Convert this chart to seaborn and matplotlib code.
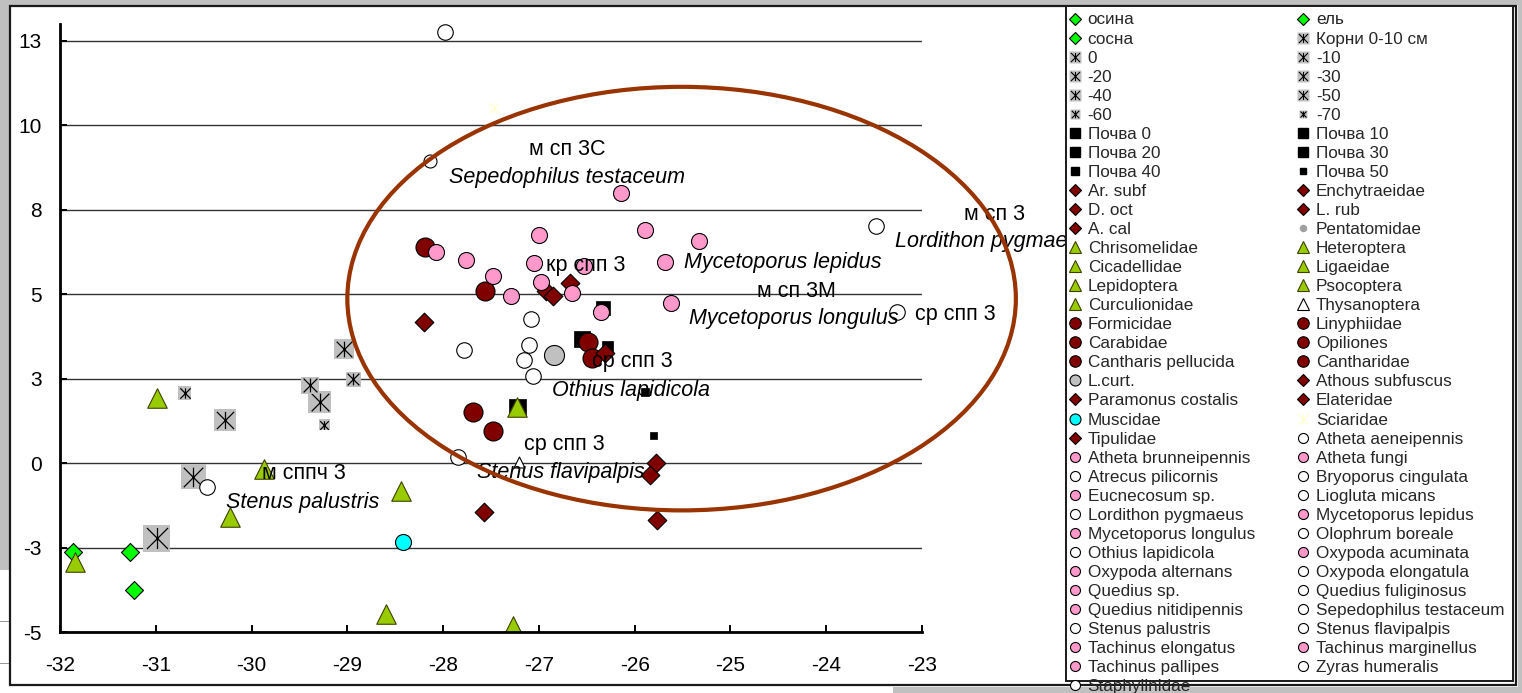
import numpy as np
import pandas as pd
import seaborn as sns
import matplotlib
matplotlib.use("Agg")
import matplotlib.pyplot as plt
from matplotlib.path import Path
from matplotlib.lines import Line2D
from matplotlib.patches import Ellipse, Rectangle

# ------------------------------------------------------------------ data
tree_names = ["осина", "ель", "сосна"]
tree_x = [-31.86, -31.27, -31.23]
tree_y = [-2.62, -2.62, -3.75]

root_names = ["Корни 0-10 см", "0", "-10", "-20", "-30", "-40", "-50", "-60", "-70"]
root_x = [-30.99, -30.61, -29.29, -30.28, -29.04, -29.39, -28.94, -30.70, -29.24]
root_y = [-2.22, -0.41, 1.81, 1.29, 3.39, 2.30, 2.49, 2.08, 1.14]

soil_names = ["Почва 0", "Почва 10", "Почва 20", "Почва 30", "Почва 40", "Почва 50"]
soil_x = [-27.23, -26.55, -26.33, -26.29, -25.89, -25.81]
soil_y = [1.65, 3.66, 4.60, 3.46, 2.10, 0.82]

diamond_names = ["Ar. subf", "Enchytraeidae", "D. oct", "L. rub", "A. cal",
                 "Athous subfuscus", "Paramonus costalis", "Elateridae", "Tipulidae"]
diamond_x = [-28.20, -26.93, -26.85, -26.68, -25.78, -26.31, -25.84, -27.57, -25.77]
diamond_y = [4.17, 5.09, 4.96, 5.34, 0.00, 3.27, -0.34, -1.46, -1.68]

tri_names = ["Chrisomelidae", "Heteroptera", "Cicadellidae", "Ligaeidae", "Lepidoptera",
             "Psocoptera", "Curculionidae", "Curculionidae", "Thysanoptera"]
tri_x = [-30.99, -29.87, -30.23, -31.84, -28.44, -28.60, -27.27, -27.23, -27.21]
tri_y = [1.93, -0.17, -1.60, -2.92, -0.84, -4.47, -4.81, 1.65, 0.02]

circ_names = ["Formicidae", "Linyphiidae", "Carabidae", "Opiliones", "Cantharis pellucida",
              "Cantharidae", "L.curt.", "Muscidae"]
circ_x = [-28.19, -27.56, -26.49, -26.45, -27.69, -27.48, -26.84, -28.42]
circ_y = [6.41, 5.09, 3.59, 3.12, 1.50, 0.96, 3.19, -2.35]

sciar_names = ["Sciaridae"]
sciar_x = [-27.47]
sciar_y = [10.50]

staph_names = ["Atheta brunneipennis", "Atheta fungi", "Eucnecosum sp.", "Mycetoporus lepidus",
               "Mycetoporus longulus", "Oxypoda acuminata", "Oxypoda alternans",
               "Quedius sp.", "Quedius sp.", "Quedius nitidipennis", "Quedius nitidipennis",
               "Tachinus elongatus", "Tachinus elongatus", "Tachinus marginellus",
               "Tachinus pallipes",
               "Atheta aeneipennis", "Atrecus pilicornis", "Bryoporus cingulata",
               "Liogluta micans", "Lordithon pygmaeus", "Olophrum boreale",
               "Othius lapidicola", "Oxypoda elongatula", "Sepedophilus testaceum",
               "Stenus palustris", "Stenus flavipalpis"]
staph_x = [-26.14, -27.00, -25.89, -25.68, -25.62, -25.33, -28.07, -27.76, -27.48,
           -27.05, -26.53, -26.98, -27.29, -26.65, -26.35,
           -27.10, -27.06, -27.08, -27.78, -23.48, -27.98, -27.16, -23.26, -28.14,
           -30.47, -27.84]
staph_y = [7.99, 6.74, 6.90, 5.96, 4.73, 6.58, 6.25, 6.01, 5.54,
           5.93, 5.83, 5.36, 4.94, 5.04, 4.47,
           3.51, 2.59, 4.27, 3.34, 7.01, 12.75, 3.04, 4.48, 8.93,
           -0.72, 0.18]

legend_names = [
    "осина", "ель", "сосна", "Корни 0-10 см", "0", "-10", "-20", "-30", "-40", "-50",
    "-60", "-70", "Почва 0", "Почва 10", "Почва 20", "Почва 30", "Почва 40", "Почва 50",
    "Ar. subf", "Enchytraeidae", "D. oct", "L. rub", "A. cal", "Pentatomidae",
    "Chrisomelidae", "Heteroptera", "Cicadellidae", "Ligaeidae", "Lepidoptera",
    "Psocoptera", "Curculionidae", "Thysanoptera", "Formicidae", "Linyphiidae",
    "Carabidae", "Opiliones", "Cantharis pellucida", "Cantharidae", "L.curt.",
    "Athous subfuscus", "Paramonus costalis", "Elateridae", "Muscidae", "Sciaridae",
    "Tipulidae", "Atheta aeneipennis", "Atheta brunneipennis", "Atheta fungi",
    "Atrecus pilicornis", "Bryoporus cingulata", "Eucnecosum sp.", "Liogluta micans",
    "Lordithon pygmaeus", "Mycetoporus lepidus", "Mycetoporus longulus", "Olophrum boreale",
    "Othius lapidicola", "Oxypoda acuminata", "Oxypoda alternans", "Oxypoda elongatula",
    "Quedius sp.", "Quedius fuliginosus", "Quedius nitidipennis", "Sepedophilus testaceum",
    "Stenus palustris", "Stenus flavipalpis", "Tachinus elongatus", "Tachinus marginellus",
    "Tachinus pallipes", "Zyras humeralis", "Staphylinidae"]

x_ticks = [-32, -31, -30, -29, -28, -27, -26, -25, -24, -23]
x_tick_labels = ["-32", "-31", "-30", "-29", "-28", "-27", "-26", "-25", "-24", "-23"]
y_ticks = [-5, -2.5, 0, 2.5, 5, 7.5, 10, 12.5]
y_tick_labels = ["-5", "-3", "0", "3", "5", "8", "10", "13"]

label_text = ["м сп 3С", "Sepedophilus testaceum", "кр спп 3", "Mycetoporus lepidus",
              "м сп 3М", "Mycetoporus longulus", "м сп 3", "Lordithon pygmaeus",
              "ср спп 3", "ср спп 3", "Othius lapidicola", "ср спп 3",
              "Stenus flavipalpis", "м сппч 3", "Stenus palustris"]
label_x = [-26.70, -26.71, -26.93, -25.49, -24.31, -25.43, -22.24, -23.28,
           -23.07, -26.45, -26.86, -27.16, -27.65, -29.89, -30.27]
label_y = [9.27, 8.46, 5.85, 5.94, 5.09, 4.27, 7.37, 6.55,
           4.40, 3.00, 2.16, 0.55, -0.28, -0.31, -1.17]

# ------------------------------------------------------------------ styles
ast_path = Path([(0, -1), (0, 1), (-1, -1), (1, 1), (-1, 1), (1, -1)],
                [Path.MOVETO, Path.LINETO] * 3)

PINK = {"Atheta brunneipennis", "Atheta fungi", "Eucnecosum sp.", "Mycetoporus lepidus",
        "Mycetoporus longulus", "Oxypoda acuminata", "Oxypoda alternans", "Quedius sp.",
        "Quedius nitidipennis", "Tachinus elongatus", "Tachinus marginellus",
        "Tachinus pallipes"}
RCIRC = {"Formicidae", "Linyphiidae", "Carabidae", "Opiliones", "Cantharis pellucida",
         "Cantharidae"}

def px2pt(px):
    return px * 0.72

root_side_px = dict(zip(root_names, [27, 25, 22.7, 22, 20, 17.7, 15, 13.3, 11]))
root_leg_px = dict(zip(root_names, [12, 12, 12, 12, 12, 12, 12, 10, 8]))
soil_side_px = dict(zip(soil_names, [17, 16, 14, 11, 8, 7]))
soil_leg_px = dict(zip(soil_names, [10.5, 10.5, 10.5, 10.5, 8, 5.5]))

def style_of(name):
    # px = marker size (side for diamonds), lpx = legend marker size
    if name in tree_names:
        return dict(marker="D", fc="#00ff00", ec="black", px=12.7, lpx=8.3)
    if name in diamond_names:
        return dict(marker="D", fc="#800000", ec="black", px=13.2, lpx=8.3)
    if name == "Thysanoptera":
        return dict(marker="^", fc="white", ec="black", px=11, lpx=12.5)
    if name in tri_names:
        return dict(marker="^", fc="#99cc00", ec="#3d4000", px=19.5, lpx=12.5)
    if name in RCIRC:
        return dict(marker="o", fc="#800000", ec="black", px=19, lpx=11.5)
    if name == "L.curt.":
        return dict(marker="o", fc="#c0c0c0", ec="black", px=20, lpx=11)
    if name == "Pentatomidae":
        return dict(marker="o", fc="#a0a0a0", ec="none", px=7, lpx=7.5)
    if name == "Muscidae":
        return dict(marker="o", fc="#00ffff", ec="black", px=16, lpx=11)
    if name == "Sciaridae":
        return dict(marker="ast", fc="#ffffcc", ec="#ffffcc", px=10, lpx=10)
    if name in PINK:
        return dict(marker="o", fc="#ff99cc", ec="black", px=16, lpx=10)
    if name == "Sepedophilus testaceum":
        return dict(marker="o", fc="white", ec="black", px=13, lpx=10)
    return dict(marker="o", fc="white", ec="black", px=15.5, lpx=10)

# ------------------------------------------------------------------ frame
sns.set_theme(style="white")
plt.rcParams["font.family"] = ["Liberation Sans", "DejaVu Sans"]

W, H = 1522, 693
fig = plt.figure(figsize=(W / 100, H / 100), dpi=100)
fig.patch.set_facecolor("white")

def fx(px):
    return px / W

def fy(py):
    return 1 - py / H

def frect(x0, y0, x1, y1, **kw):
    r = Rectangle((fx(x0), fy(y1)), fx(x1) - fx(x0), fy(y0) - fy(y1),
                  transform=fig.transFigure, **kw)
    fig.add_artist(r)
    return r

grey = "#c0c0c0"
frect(0, 0, W, 5, facecolor=grey, edgecolor="none", zorder=-3)
frect(0, 0, 9, 570, facecolor=grey, edgecolor="none", zorder=-3)
frect(1518, 0, W, H, facecolor=grey, edgecolor="none", zorder=-3)
frect(893, 687, W, H, facecolor=grey, edgecolor="none", zorder=-3)
frect(0, 621, 9, 621.8, facecolor="#999999", edgecolor="none", zorder=-3)
frect(0, 663, 9, 663.8, facecolor="#999999", edgecolor="none", zorder=-3)
frect(9.5, 6, 1516, 684.5, facecolor="white", edgecolor="#1a1a1a", linewidth=1.6, zorder=-2)
frect(1066, 6, 1512.5, 681, facecolor="white", edgecolor="#1a1a1a", linewidth=1.4, zorder=2)

ax = fig.add_axes([fx(60), fy(632), fx(922) - fx(60), fy(24) - fy(632)])
ax.set_facecolor("none")

# ------------------------------------------------------------------ data frame
df = pd.concat([
    pd.DataFrame({"series": tree_names, "x": tree_x, "y": tree_y}),
    pd.DataFrame({"series": root_names, "x": root_x, "y": root_y}),
    pd.DataFrame({"series": soil_names, "x": soil_x, "y": soil_y}),
    pd.DataFrame({"series": diamond_names, "x": diamond_x, "y": diamond_y}),
    pd.DataFrame({"series": tri_names, "x": tri_x, "y": tri_y}),
    pd.DataFrame({"series": circ_names, "x": circ_x, "y": circ_y}),
    pd.DataFrame({"series": sciar_names, "x": sciar_x, "y": sciar_y}),
    pd.DataFrame({"series": staph_names, "x": staph_x, "y": staph_y}),
], ignore_index=True)

z = 3
for name in legend_names:
    sub = df[df["series"] == name]
    if sub.empty:
        continue
    if name in root_names:
        side = px2pt(root_side_px[name])
        sns.scatterplot(data=sub, x="x", y="y", ax=ax, marker="s", s=side ** 2,
                        color=grey, edgecolor="none", linewidth=0, zorder=z, legend=False)
        sns.scatterplot(data=sub, x="x", y="y", ax=ax, marker=ast_path, s=(side * 0.78) ** 2,
                        color="black", edgecolor="black", linewidth=0.9, zorder=z + 0.01,
                        legend=False)
    elif name in soil_names:
        side = px2pt(soil_side_px[name])
        sns.scatterplot(data=sub, x="x", y="y", ax=ax, marker="s", s=side ** 2,
                        color="black", edgecolor="black", linewidth=0.5, zorder=z, legend=False)
    else:
        st = style_of(name)
        ms = px2pt(st["px"])
        mk = ast_path if st["marker"] == "ast" else st["marker"]
        sns.scatterplot(data=sub, x="x", y="y", ax=ax, marker=mk, s=ms ** 2,
                        color=st["fc"], edgecolor=st["ec"], linewidth=0.8, zorder=z,
                        legend=False)
    z += 0.02

# ellipse drawn over the chart
ax.add_patch(Ellipse((-25.51, 4.87), 6.98, 12.54, fill=False, edgecolor="#993300",
                     linewidth=3.0, clip_on=False, zorder=8))

# labels
centered = {"м сп 3С", "Sepedophilus testaceum", "м сп 3М", "м сп 3"}
for t, lx, ly in zip(label_text, label_x, label_y):
    italic = t[0].isascii() and t[0].isalpha()
    ax.text(lx, ly, t, fontsize=15.5, style="italic" if italic else "normal",
            ha="center" if t in centered else "left", va="center", color="black",
            clip_on=False, zorder=7)

# ------------------------------------------------------------------ axes
ax.set_xlim(-32, -23)
ax.set_ylim(-5, 13)
ax.set_xticks(x_ticks)
ax.set_xticklabels(x_tick_labels)
ax.set_yticks(y_ticks)
ax.set_yticklabels(y_tick_labels)
ax.set_xlabel("")
ax.set_ylabel("")
ax.tick_params(axis="both", direction="in", length=5, width=1.4, color="black",
               labelsize=15, labelcolor="black", bottom=True, left=True)
ax.tick_params(axis="x", pad=17)
ax.tick_params(axis="y", pad=13)
for s in ("top", "right"):
    ax.spines[s].set_visible(False)
for s in ("left", "bottom"):
    ax.spines[s].set_visible(True)
    ax.spines[s].set_linewidth(2.0)
    ax.spines[s].set_color("black")
    ax.spines[s].set_zorder(6)
ax.yaxis.grid(True, color="#333333", linewidth=1.0)
ax.xaxis.grid(False)
ax.set_axisbelow(True)

# ------------------------------------------------------------------ legend
handles = []
for name in legend_names:
    if name in root_names:
        lp = px2pt(root_leg_px[name])
        h = (Line2D([], [], linestyle="none", marker="s", markersize=lp,
                    markerfacecolor=grey, markeredgecolor="none"),
             Line2D([], [], linestyle="none", marker=ast_path, markersize=lp * 0.75,
                    markeredgecolor="black", markeredgewidth=0.8))
    elif name in soil_names:
        lp = px2pt(soil_leg_px[name])
        h = Line2D([], [], linestyle="none", marker="s", markersize=lp,
                   markerfacecolor="black", markeredgecolor="black")
    else:
        st = style_of(name)
        lp = px2pt(st["lpx"])
        mk = ast_path if st["marker"] == "ast" else st["marker"]
        h = Line2D([], [], linestyle="none", marker=mk, markersize=lp,
                   markerfacecolor=st["fc"], markeredgecolor=st["ec"], markeredgewidth=0.8)
    handles.append(h)

order = list(range(0, len(legend_names), 2)) + list(range(1, len(legend_names), 2))
leg = fig.legend([handles[i] for i in order], [legend_names[i] for i in order],
                 loc="upper left", bbox_to_anchor=(fx(1068), fy(12.5)), ncol=2,
                 frameon=False, fontsize=12.3, handlelength=0.8, handletextpad=0.35,
                 columnspacing=2.42, labelspacing=0.237, borderpad=0, borderaxespad=0)
leg.set_zorder(5)

fig.savefig("out.png", dpi=100, facecolor=fig.get_facecolor())
